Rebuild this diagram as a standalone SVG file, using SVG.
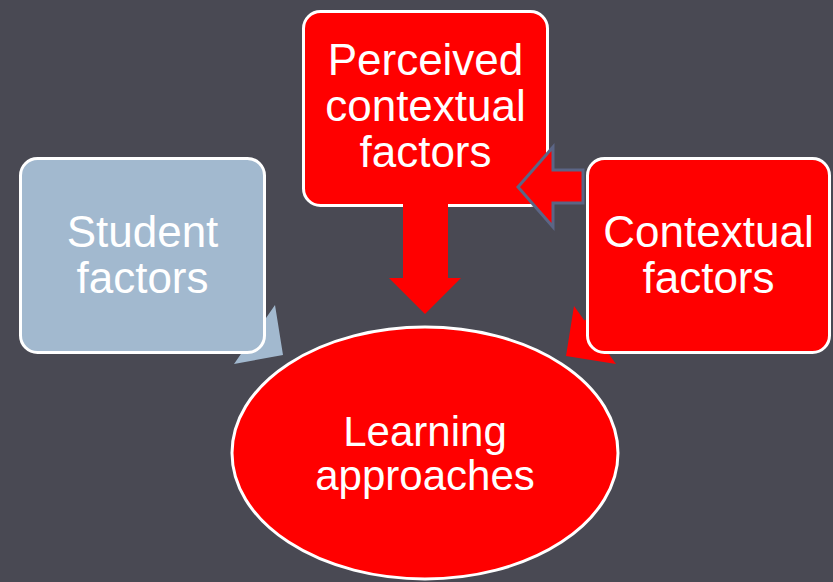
<svg xmlns="http://www.w3.org/2000/svg" width="833" height="582" viewBox="0 0 833 582">
<style>
.box{stroke:#ffffff;stroke-width:3}
.red{fill:#ff0000}
.lbl{font-family:"Liberation Sans",Arial,sans-serif;fill:#ffffff;text-anchor:middle;font-size:44px}
</style>
<rect x="0" y="0" width="833" height="582" fill="#494953"/>
<g id="perceived">
<rect class="box red" x="303.5" y="11.5" width="244" height="194" rx="17"/>
<text class="lbl" x="425.5" y="75">Perceived</text>
<text class="lbl" x="425.5" y="121">contextual</text>
<text class="lbl" x="425.5" y="167">factors</text>
</g>
<g id="connectors">
<polygon fill="#a2b9cf" points="216,286 264.8,319.7 275,305 283,355 234,364 244.2,349.3 195,315"/>
<polygon class="red" points="633,286 584.4,320.4 574,306 566,356 616,364 605.6,349.6 654,315"/>
<polygon class="red" points="403,200 448,200 448,278 461,278 425,314 389,278 403,278"/>
<polygon class="red" stroke="#5b6585" stroke-width="3" stroke-linejoin="miter" points="583,170 553,170 553,147 518,187 553,227 553,203 583,203"/>
</g>
<g id="student">
<rect class="box" fill="#a2b9cf" x="20.5" y="158.5" width="244" height="194" rx="17"/>
<text class="lbl" x="142.5" y="247">Student</text>
<text class="lbl" x="142.5" y="293">factors</text>
</g>
<g id="contextual">
<rect class="box red" x="587.5" y="158.5" width="242" height="194" rx="17"/>
<text class="lbl" x="708.5" y="247">Contextual</text>
<text class="lbl" x="708.5" y="293">factors</text>
</g>
<g id="learning">
<ellipse class="box red" cx="425" cy="453" rx="193" ry="126"/>
<text class="lbl" x="425" y="446" style="font-size:42px">Learning</text>
<text class="lbl" x="425" y="490" style="font-size:42px">approaches</text>
</g>
</svg>
